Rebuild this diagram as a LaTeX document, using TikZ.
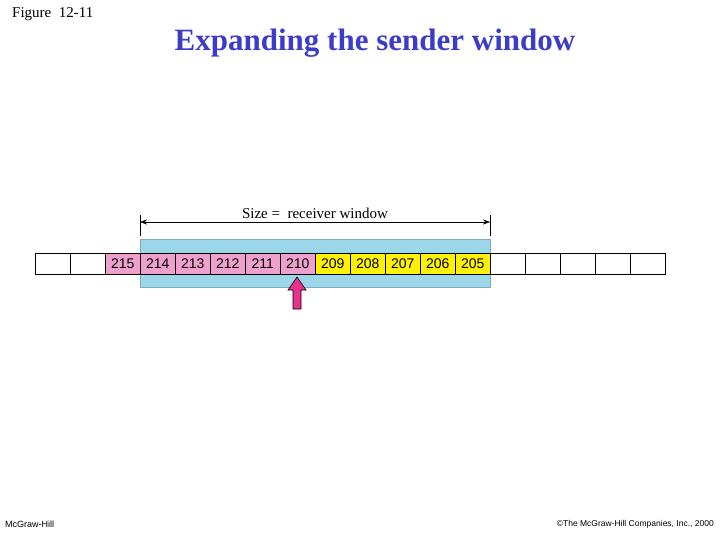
\documentclass[tikz,border=0pt]{standalone}
\usepackage{fontspec}
\usetikzlibrary{arrows.meta}
\setmainfont{Liberation Serif}
\newfontfamily\sansf{Liberation Sans}
\definecolor{pinkc}{RGB}{240,160,205}
\definecolor{bluec}{RGB}{155,215,232}
\definecolor{titlec}{RGB}{60,60,200}
\definecolor{arrowc}{RGB}{230,50,140}
\tikzset{x=1pt,y=-1pt,
 cell/.style={draw,minimum width=35pt,minimum height=21pt,inner sep=0pt,anchor=north west,font=\sansf\fontsize{14}{14}\selectfont},
 pcell/.style={cell,fill=pinkc},
 ycell/.style={cell,fill=yellow}}
\begin{document}
\begin{tikzpicture}
\useasboundingbox (0,0) rectangle (720,540);
\node[anchor=west,font=\fontsize{15}{15}\selectfont,inner sep=0pt] (fig) at (12,14) {Figure\ \ 12-11};
\node[font=\bfseries\fontsize{31}{31}\selectfont,text=titlec] (title) at (375,43) {Expanding the sender window};
\node[draw=bluec!80!black,fill=bluec,minimum width=350pt,minimum height=48pt,inner sep=0pt,anchor=north west] (win) at (140,239) {};
\foreach \i/\lab/\st in {0//cell,1//cell,2/215/pcell,3/214/pcell,4/213/pcell,5/212/pcell,6/211/pcell,7/210/pcell,8/209/ycell,9/208/ycell,10/207/ycell,11/206/ycell,12/205/ycell,13//cell,14//cell,15//cell,16//cell,17//cell}
  \node[\st] (c\i) at ({35+35*\i},253) {\lab};
\coordinate (tl1) at (140,215); \coordinate (tl2) at (140,236);
\coordinate (tr1) at (490,215); \coordinate (tr2) at (490,236);
\draw (tl1) -- (tl2); \draw (tr1) -- (tr2);
\coordinate (al) at (140,222); \coordinate (ar) at (490,222);
\draw[{Stealth[length=7pt,width=5pt]}-{Stealth[length=7pt,width=5pt]}] (al) -- (ar);
\node[font=\fontsize{15}{15}\selectfont] (size) at (315,213) {Size =\ \ receiver window};
\draw[draw=black,fill=arrowc,line width=0.6pt] (293,309) -- (293,290) -- (288,290) -- (297,277) -- (306,290) -- (301,290) -- (301,309) -- cycle;
\node[anchor=west,font=\sansf\fontsize{9}{9}\selectfont,inner sep=0pt] (mh) at (5,524) {McGraw-Hill};
\node[anchor=east,font=\sansf\fontsize{8.5}{8.5}\selectfont,inner sep=0pt] (cp) at (714,524) {\textcopyright The McGraw-Hill Companies, Inc., 2000};
\end{tikzpicture}
\end{document}
